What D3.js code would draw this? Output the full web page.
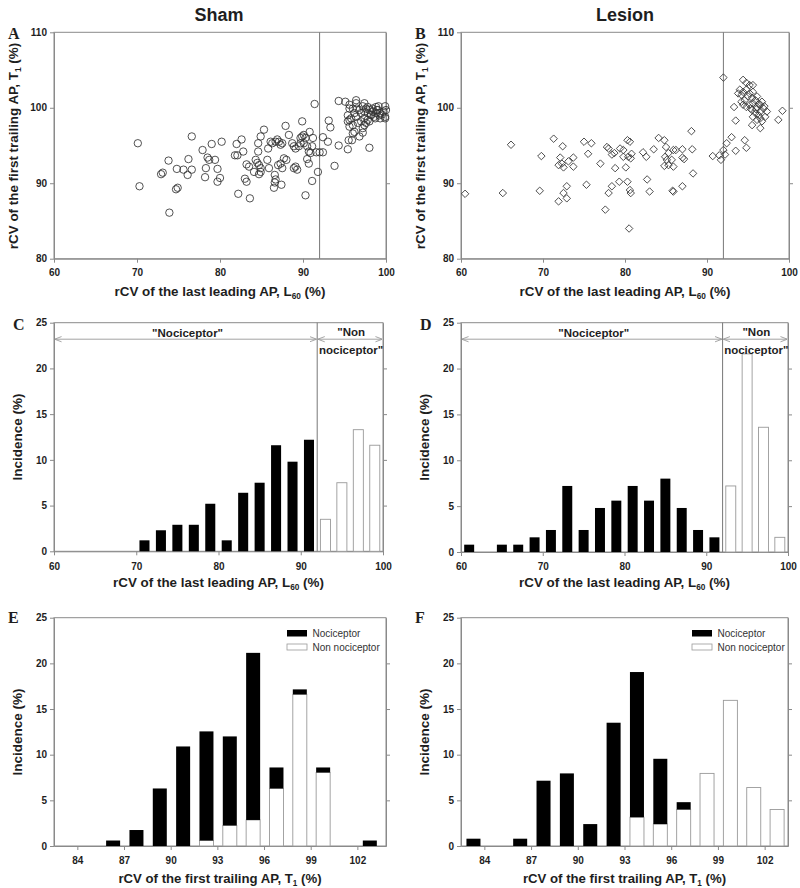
<!DOCTYPE html>
<html><head><meta charset="utf-8">
<script src="https://cdn.jsdelivr.net/npm/d3@7"></script>
<style>
body{margin:0;background:#fff}
svg{display:block}
text{font-family:"Liberation Sans",Arial,sans-serif}
</style>
</head><body>
<svg id="c" width="800" height="888"></svg>
<script>
// ---------------- DATA ----------------
// Scatter: [L60 (%), T1 (%)]
const shamPoints = [
[70.1,95.3],[70.3,89.6],[73.9,86.1],[72.9,91.2],[73.1,91.4],[73.8,93.0],[74.7,89.2],[74.9,89.4],[74.8,91.9],[75.6,91.8],
[76.1,91.1],[76.2,93.2],[76.6,91.8],[76.6,96.2],[77.9,94.4],[78.3,92.0],[78.2,90.8],[78.5,93.4],[78.7,93.1],[79.0,95.2],
[79.4,93.1],[79.7,91.9],[79.7,90.2],[80.0,90.7],[80.2,95.5],[82.0,95.2],[81.8,93.7],[82.1,93.7],[82.6,95.8],[82.8,94.2],
[82.2,88.6],[83.0,90.6],[83.2,90.2],[83.2,92.5],[83.5,92.2],[83.6,88.0],[84.1,91.5],[84.3,93.1],[84.5,92.7],[84.7,92.4],
[84.9,92.0],[84.9,91.5],[84.7,91.2],[84.6,95.3],[84.9,96.2],[84.6,94.2],[85.3,97.1],[85.8,94.6],[86.1,95.5],[85.7,93.1],
[85.9,92.0],[86.3,95.3],[86.7,95.5],[86.9,95.8],[87.1,95.5],[87.3,95.1],[87.5,95.3],[86.6,91.1],[86.7,90.5],[86.6,90.1],
[86.5,89.4],[87.0,92.4],[87.3,92.6],[87.5,92.0],[87.4,89.8],[87.7,93.3],[88.0,93.1],[87.9,97.6],[88.3,96.4],[88.7,95.3],
[88.9,94.9],[88.9,92.0],[89.1,92.2],[89.3,91.8],[89.1,94.6],[89.5,94.9],[89.7,95.3],[89.9,96.2],[90.1,96.4],[90.3,96.0],
[89.7,96.0],[90.1,95.3],[90.5,94.9],[90.7,94.2],[91.1,94.9],[91.2,96.0],[90.9,94.0],[89.9,98.2],[90.3,88.4],[90.5,93.2],
[90.7,92.6],[90.8,96.8],[91.1,90.3],[91.4,100.5],[91.6,94.1],[92.0,94.1],[92.4,94.1],[91.8,91.5],[92.4,96.1],[93.0,95.5],
[93.1,98.3],[93.3,97.4],[93.8,92.3],[94.3,100.9],[94.3,95.0],[95.4,94.5],[95.5,95.7],[95.9,95.7],[98.0,94.7],[99.9,100.2],
[99.9,98.8],[95.1,100.8],[95.6,100.4],[96.0,99.9],[96.4,101.0],[96.2,99.3],[96.8,99.7],[97.2,100.2],[97.6,99.9],[98.0,99.7],
[98.4,99.9],[98.9,99.7],[99.3,99.3],[99.7,99.5],[100.0,99.7],[99.1,100.2],[98.2,99.1],[97.4,98.6],[97.0,98.2],[97.4,97.7],
[97.2,97.3],[97.6,98.0],[97.8,98.4],[98.7,98.6],[99.3,98.6],[99.5,99.1],[96.4,98.8],[96.6,98.0],[96.0,97.7],[95.6,98.4],
[95.4,98.2],[96.2,96.8],[97.2,96.7],[96.8,96.2],[95.6,99.9],[95.4,99.0],[95.8,98.6],[96.5,99.9],[97.0,99.3],[97.4,99.5],
[97.8,99.3],[98.2,99.0],[98.4,99.5],[98.6,98.8],[98.8,99.3],[99.0,99.7],[99.2,99.0],[97.8,100.1],[98.8,100.1],[96.4,100.6],
[97.4,100.6],[95.6,97.5],[96.0,96.6],[98.0,98.2],[99.9,98.6]
];
const lesionPoints = [
[60.5,88.6],[65.1,88.7],[66.1,95.1],[69.6,89.0],[69.8,93.6],[71.3,95.9],[72.4,94.9],[72.1,93.4],[72.3,92.6],[71.9,92.4],
[72.5,92.1],[73.1,92.9],[73.7,93.4],[73.7,92.2],[72.9,89.6],[72.5,88.7],[71.9,87.6],[72.9,88.0],[75.0,95.5],[75.9,95.3],
[75.5,93.9],[75.3,89.8],[77.0,92.6],[77.6,86.5],[77.8,94.8],[78.0,94.6],[78.4,93.8],[78.7,94.0],[78.8,92.0],[79.4,94.6],
[79.8,94.4],[80.3,95.7],[80.6,95.5],[80.4,93.5],[80.7,93.3],[80.8,93.9],[79.8,93.5],[80.1,92.1],[79.3,90.2],[78.4,89.6],
[78.0,88.7],[80.3,90.2],[80.6,89.1],[80.7,88.7],[80.5,84.0],[82.2,94.1],[82.6,93.5],[83.5,94.5],[82.7,90.5],[83.0,88.9],
[84.1,96.0],[84.8,95.7],[85.0,94.8],[84.9,93.5],[85.1,93.1],[84.8,92.3],[85.3,94.0],[85.9,94.4],[85.7,93.1],[85.3,92.4],
[85.9,92.2],[86.2,94.4],[87.0,94.5],[87.2,93.2],[85.9,88.9],[87.0,89.6],[88.1,96.9],[88.2,94.5],[88.3,91.3],[85.8,89.0],
[87.0,93.4],[90.7,93.6],[91.5,93.7],[91.7,93.1],[92.0,94.4],[92.2,93.8],[92.4,95.3],[93.0,96.1],[92.0,104.0],[93.3,100.1],
[93.5,98.3],[93.5,94.3],[94.6,95.7],[94.8,94.7],[94.4,103.7],[94.8,103.3],[95.2,103.0],[95.6,103.0],[94.0,102.4],[93.8,101.9],
[94.2,101.7],[94.4,102.1],[94.8,102.4],[95.2,101.9],[95.6,102.1],[96.1,101.5],[95.9,101.0],[95.5,101.3],[95.0,101.5],[94.6,101.0],
[94.2,100.8],[94.4,100.4],[94.8,100.1],[95.2,100.4],[95.6,100.6],[96.1,100.1],[96.5,100.4],[96.7,100.8],[96.9,99.9],[97.3,99.5],
[96.5,99.5],[96.3,99.0],[95.9,99.3],[95.5,99.7],[95.6,98.8],[96.1,98.4],[96.5,98.6],[96.7,98.2],[97.1,98.8],[95.5,97.7],
[96.5,97.3],[99.2,99.6],[98.7,98.4],[96.0,99.8],[95.3,99.9],[96.3,100.5],[97.0,100.2]
];
// Histograms by L60 (bin centres, %)
const l60Bins       = [61,63,65,67,69,71,73,75,77,79,81,83,85,87,89,91,93,95,97,99];
const shamNocL60    = [0,0,0,0,0,1.2,2.3,2.9,2.9,5.2,1.2,6.4,7.5,11.6,9.8,12.2,0,0,0,0];
const shamNonL60    = [0,0,0,0,0,0,0,0,0,0,0,0,0,0,0,0,3.5,7.5,13.3,11.6];
const lesionNocL60  = [0.8,0,0.8,0.8,1.6,2.4,7.2,2.4,4.8,5.6,7.2,5.6,8.0,4.8,2.4,1.6,0,0,0,0];
const lesionNonL60  = [0,0,0,0,0,0,0,0,0,0,0,0,0,0,0,0,7.2,21.6,13.6,1.6];
// Histograms by T1 (bin centres, %), stacked: non-nociceptor bottom, nociceptor top
const t1Bins        = [83.3,84.8,86.3,87.8,89.3,90.8,92.3,93.8,95.3,96.8,98.3,99.8,101.3,102.8];
const shamNocT1     = [0,0,0.6,1.75,6.3,10.9,11.95,9.75,18.3,2.3,0.55,0.55,0,0.6];
const shamNonT1     = [0,0,0,0,0,0,0.6,2.25,2.85,6.3,16.6,8.05,0,0];
const lesionNocT1   = [0.8,0,0.8,7.15,7.95,2.4,13.5,15.9,7.15,0.8,0,0,0,0];
const lesionNonT1   = [0,0,0,0,0,0,0,3.15,2.4,4.0,7.95,15.95,6.4,4.0];
// Ticks
const l60Ticks       = [60,70,80,90,100];
const t1ScatterTicks = [80,90,100,110];
const incidenceTicks = [0,5,10,15,20,25];
const t1Ticks        = [84,87,90,93,96,99,102];
const threshold = 92;

// ---------------- DRAWING ----------------
const svg = d3.select("#c");
const AX = "#8a8a8a", TXT = "#1e1e1e";

svg.append("defs").append("marker")
  .attr("id","arr").attr("viewBox","0 0 8 8").attr("refX",7.5).attr("refY",4)
  .attr("markerWidth",7).attr("markerHeight",7).attr("orient","auto-start-reverse")
  .attr("markerUnits","userSpaceOnUse")
  .append("path").attr("d","M0,1 L8,4 L0,7").attr("fill","none").attr("stroke","#999").attr("stroke-width",1);

function styleAxis(g){
  g.select(".domain").attr("stroke",AX);
  g.selectAll(".tick line").attr("stroke",AX);
  g.selectAll(".tick text").attr("fill",TXT)
    .style("font-family","'Liberation Sans',Arial,sans-serif").style("font-size","10px").style("font-weight","bold");
}
function frame(x,y,xTicks,yTicks,pad){
  const [x0,x1]=x.range(), [y0,y1]=y.range();
  svg.append("rect").attr("x",x0).attr("y",y1).attr("width",x1-x0).attr("height",y0-y1)
    .attr("fill","none").attr("stroke",AX);
  svg.append("g").attr("transform",`translate(0,${y0})`)
    .call(d3.axisBottom(x).tickValues(xTicks).tickSize(4).tickPadding(pad).tickSizeOuter(0)).call(styleAxis);
  svg.append("g").attr("transform",`translate(${x0},0)`)
    .call(d3.axisLeft(y).tickValues(yTicks).tickSize(4).tickPadding(3).tickSizeOuter(0)).call(styleAxis);
  svg.append("g").attr("transform",`translate(${x1},0)`)
    .call(d3.axisRight(y).tickValues(yTicks.slice(1,-1)).tickSize(4).tickFormat("").tickSizeOuter(0)).call(styleAxis);
}
function richText(sel, parts, size){
  let shift = 0;
  parts.forEach(p=>{
    if(p.sub){
      sel.append("tspan").attr("font-size",size*0.62).attr("dy",size*0.25).text(p.sub);
      shift = -size*0.25;
    } else {
      const ts = sel.append("tspan").text(p.t);
      if(shift){ ts.attr("dy",shift); shift = 0; }
    }
  });
}
function xLabel(cx, y, parts, size){
  const t = svg.append("text").attr("x",cx).attr("y",y).attr("text-anchor","middle")
    .attr("font-weight","bold").attr("font-size",size).attr("fill",TXT);
  richText(t, parts, size);
}
function yLabel(x, cy, parts, size){
  const t = svg.append("text").attr("transform",`translate(${x},${cy}) rotate(-90)`).attr("text-anchor","middle")
    .attr("font-weight","bold").attr("font-size",size).attr("fill",TXT);
  richText(t, parts, size);
}
function letter(x,y,s){
  svg.append("text").attr("x",x).attr("y",y).text(s)
    .style("font-family","'Liberation Serif','Times New Roman',serif").attr("font-weight","bold")
    .attr("font-size",16).attr("fill",TXT);
}
const L60label = [{t:"rCV of the last leading AP, L"},{sub:"60"},{t:" (%)"}];
const T1label  = [{t:"rCV of the first trailing AP, T"},{sub:"1"},{t:" (%)"}];
const INClabel = [{t:"Incidence (%)"}];

// ---- Scatter panels ----
function scatter(points, xr, kind, titleX, title, let){
  const x = d3.scaleLinear().domain([60,100]).range(xr);
  const y = d3.scaleLinear().domain([80,110]).range([258.7,32.3]);
  frame(x,y,l60Ticks,t1ScatterTicks,6.6);
  svg.append("line").attr("x1",x(threshold)).attr("x2",x(threshold)).attr("y1",y(110)).attr("y2",y(80))
    .attr("stroke","#777");
  const g = svg.append("g");
  if(kind==="circle"){
    g.selectAll("circle").data(points).join("circle")
      .attr("cx",d=>x(d[0])).attr("cy",d=>y(d[1])).attr("r",3.7)
      .attr("fill","none").attr("stroke","#333").attr("stroke-width",0.85);
  } else {
    const sym = d3.symbol(d3.symbolSquare, 28);
    g.selectAll("path").data(points).join("path")
      .attr("d",sym).attr("transform",d=>`translate(${x(d[0])},${y(d[1])}) rotate(45)`)
      .attr("fill","none").attr("stroke","#3a3a3a").attr("stroke-width",0.85);
  }
  svg.append("text").attr("x",titleX).attr("y",21).attr("text-anchor","middle")
    .attr("font-weight","bold").attr("font-size",18).attr("fill",TXT).text(title);
  xLabel((xr[0]+xr[1])/2, 295.5, L60label, 13.4);
  yLabel(xr[0]-36, 146, T1label, 13.4);
  letter(xr[0]-46, 39, let);
}
scatter(shamPoints,[54,386],"circle",219,"Sham","A");
scatter(lesionPoints,[461,789],"diamond",625,"Lesion","B");

// ---- L60 histograms ----
function histL60(noc, non, xr, yr, let){
  const x = d3.scaleLinear().domain([60,100]).range(xr);
  const y = d3.scaleLinear().domain([0,25]).range(yr);
  frame(x,y,l60Ticks,incidenceTicks,7.2);
  const bw = 1.22;
  const rows = l60Bins.map((c,i)=>({c, noc:noc[i], non:non[i]}));
  svg.append("g").selectAll("rect").data(rows.filter(d=>d.noc>0)).join("rect")
    .attr("x",d=>x(d.c-bw/2)).attr("width",d=>x(d.c+bw/2)-x(d.c-bw/2))
    .attr("y",d=>y(d.noc)).attr("height",d=>y(0)-y(d.noc)).attr("fill","#000");
  svg.append("g").selectAll("rect").data(rows.filter(d=>d.non>0)).join("rect")
    .attr("x",d=>x(d.c-bw/2)).attr("width",d=>x(d.c+bw/2)-x(d.c-bw/2))
    .attr("y",d=>y(d.non)).attr("height",d=>y(0)-y(d.non)).attr("fill","#fff").attr("stroke","#999").attr("stroke-width",0.9);
  svg.append("line").attr("x1",x(threshold)).attr("x2",x(threshold)).attr("y1",y(25)).attr("y2",y(0)).attr("stroke","#777");
  const ay = y(25)+16.5;
  [[60,threshold],[threshold,100]].forEach(([a,b])=>{
    svg.append("line").attr("x1",x(a)+1).attr("x2",x(b)-1).attr("y1",ay).attr("y2",ay)
      .attr("stroke","#999").attr("stroke-width",0.9)
      .attr("marker-start","url(#arr)").attr("marker-end","url(#arr)");
  });
  const ts = {"font-weight":"bold","font-size":11.5,"fill":TXT,"text-anchor":"middle"};
  const mk = (tx,ty,s)=>{const t=svg.append("text").attr("x",tx).attr("y",ty).text(s); Object.entries(ts).forEach(([k,v])=>t.attr(k,v));};
  mk((x(60)+x(threshold))/2+2, ay-2.5, "\"Nociceptor\"");
  mk((x(threshold)+x(100))/2+1, ay-3, "\"Non");
  mk((x(threshold)+x(100))/2+1, ay+14.5, "nociceptor\"");
  xLabel((xr[0]+xr[1])/2, 587, L60label, 13.4);
  yLabel(xr[0]-32, (yr[0]+yr[1])/2, INClabel, 13.5);
  letter(xr[0]-41, 330, let);
}
histL60(shamNocL60, shamNonL60, [54,383],[551.3,322.7],"C");
histL60(lesionNocL60, lesionNonL60, [461,788],[552,322.7],"D");

// ---- T1 stacked histograms ----
function histT1(noc, non, xr, xmax, let, legX){
  const x = d3.scaleLinear().domain([82.5,xmax]).range(xr);
  const y = d3.scaleLinear().domain([0,25]).range([846,617.7]);
  frame(x,y,t1Ticks,incidenceTicks,7.2);
  const rows = t1Bins.map((c,i)=>({c, non:non[i], noc:noc[i]}));
  const stack = d3.stack().keys(["non","noc"])(rows);
  const bw = 0.9;
  const fills = {non:"#fff", noc:"#000"};
  stack.forEach(layer=>{
    svg.append("g").selectAll("rect").data(layer.filter(d=>d[1]-d[0]>0)).join("rect")
      .attr("x",d=>x(d.data.c-bw/2)).attr("width",d=>x(d.data.c+bw/2)-x(d.data.c-bw/2))
      .attr("y",d=>y(d[1])).attr("height",d=>y(d[0])-y(d[1]))
      .attr("fill",fills[layer.key]).attr("stroke",layer.key==="non"?"#999":"none").attr("stroke-width",0.9);
  });
  // legend
  const lg = svg.append("g").attr("transform",`translate(${legX},630)`);
  lg.append("rect").attr("x",0).attr("y",0).attr("width",20).attr("height",6.5).attr("fill","#000");
  lg.append("rect").attr("x",0).attr("y",14).attr("width",20).attr("height",6).attr("fill","#fff").attr("stroke","#999").attr("stroke-width",0.8);
  lg.append("text").attr("x",25.5).attr("y",7.2).attr("font-size",10).attr("fill","#333").text("Nociceptor");
  lg.append("text").attr("x",25.5).attr("y",20.8).attr("font-size",10).attr("fill","#333").text("Non nociceptor");
  xLabel((xr[0]+xr[1])/2, 883, T1label, 13.2);
  yLabel(xr[0]-32, 732, INClabel, 13.5);
  letter(xr[0]-46, 623, let);
}
histT1(shamNocT1, shamNonT1, [54,386], 103.84, "E", 287);
histT1(lesionNocT1, lesionNonT1, [461,788], 103.5, "F", 692);
</script>
</body></html>
